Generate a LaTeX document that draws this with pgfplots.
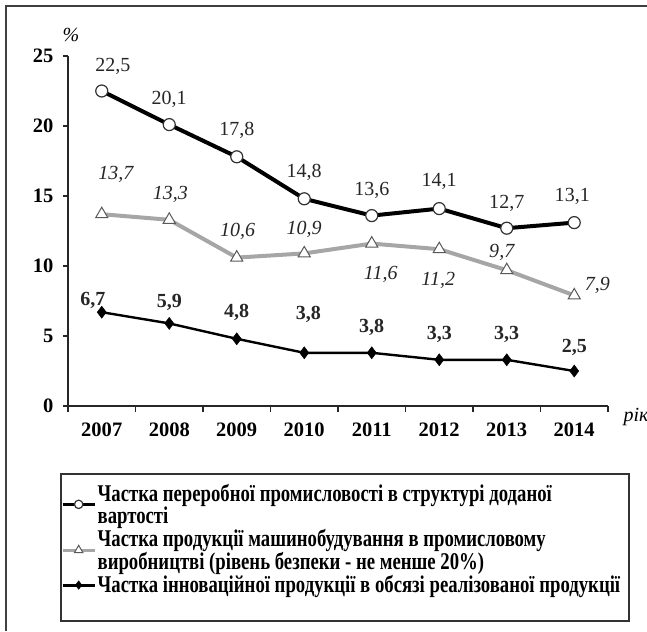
\documentclass[border=0pt]{standalone}
\usepackage{fontspec}
\setmainfont{Liberation Serif}
\newfontfamily\legfont{Liberation Serif}[FakeStretch=0.78]
\usepackage{pgfplots}
\pgfplotsset{compat=1.18}

\pgfplotsset{/pgf/number format/assume math mode=true}

\begin{document}
\begin{tikzpicture}
\useasboundingbox (0,0) rectangle (647pt,-631pt);
% outer frame (left and top only are visible)
\draw[black!75, line width=1.8pt] (6pt,-631pt) -- (6pt,-6pt) -- (647pt,-6pt);

\begin{axis}[
    at={(68pt,-406pt)}, anchor=south west,
    scale only axis,
    width=540pt, height=350pt,
    xmin=-0.5, xmax=7.5,
    ymin=0, ymax=25,
    clip=false,
    axis lines*=left,
    axis line style={black!85, line width=1.3pt},
    xtick={0,...,7},
    xticklabels={2007,2008,2009,2010,2011,2012,2013,2014},
    minor xtick={-0.5,0.5,...,7.5},
    major x tick style={draw=none},
    ytick={0,5,...,25},
    tick align=outside,
    tick style={black!85, line width=1.2pt},
    major tick length=5pt,
    minor tick length=6pt,
    ticklabel style={font=\fontsize{20.5}{24}\selectfont\bfseries},
    xticklabel style={yshift=-8pt},
    yticklabel style={xshift=-6pt},
    legend image code/.code={
        \draw[mark repeat=2,mark phase=2, line width=3pt, every mark/.append style={scale=0.7}]
            plot coordinates {(0pt,0pt)(16pt,0pt)(32pt,0pt)};},
    legend style={at={(axis description cs:-0.013,-0.218)}, anchor=north west,
        draw=none, fill=none, inner sep=0pt, row sep=1.5pt,
        font=\legfont\bfseries\fontsize{24}{22}\selectfont,
        cells={align=left}, nodes={inner sep=1.5pt}},
    legend cell align=left,
    nodes near coords={\pgfmathprintnumber[fixed,fixed zerofill,precision=1,use comma]{\pgfplotspointmeta}},
    visualization depends on=\thisrow{dx}\as\mydx,
    visualization depends on=\thisrow{dy}\as\mydy,
    every node near coord/.append style={anchor=center, xshift=\mydx*1pt, yshift=\mydy*1pt, text=black!85},
]

\addplot[black, line width=4pt, mark=*, mark size=6pt,
    mark options={fill=white, draw=black!80, line width=1.2pt},
    nodes near coords style={font=\fontsize{20}{24}\selectfont}]
    table {
    x y dx dy
    0 22.5 11 25
    1 20.1 0 25
    2 17.8 0 26
    3 14.8 0 26
    4 13.6 0 25
    5 14.1 0 27
    6 12.7 0 25
    7 13.1 -2 26
    };
\addlegendentry{Частка переробної промисловості в структурі доданої\\вартості}

\addplot[black!35, line width=4pt, mark=triangle*, mark size=7pt,
    mark options={fill=white, draw=black!65, line width=1pt},
    nodes near coords style={font=\fontsize{20}{24}\selectfont\itshape}]
    table {
    x y dx dy
    0 13.7 14 40
    1 13.3 1 25
    2 10.6 1 26
    3 10.9 0 24
    4 11.6 9 -31
    5 11.2 -1 -31
    6 9.7 -5 18
    7 7.9 23 10
    };
\addlegendentry{Частка продукції машинобудування в промисловому\\виробництві (рівень безпеки - не менше 20\%)}

\addplot[black, line width=2.4pt, mark=diamond*, mark size=6pt,
    mark options={fill=black, draw=black, line width=0.5pt},
    nodes near coords style={font=\fontsize{20}{24}\selectfont\bfseries}]
    table {
    x y dx dy
    0 6.7 -9 12
    1 5.9 0 21
    2 4.8 0 26
    3 3.8 4 38
    4 3.8 0 25
    5 3.3 0 25
    6 3.3 0 25
    7 2.5 0 24
    };
\addlegendentry{Частка інноваційної продукції в обсязі реалізованої продукції}

\end{axis}

\node[font=\fontsize{20}{24}\selectfont\itshape] at (71pt,-35pt) {\%};
\node[font=\fontsize{20}{24}\selectfont\itshape, anchor=west] at (620pt,-417pt) {рік};
\draw[black!80, line width=1.5pt] (61pt,-474pt) rectangle (629pt,-621pt);
\end{tikzpicture}
\end{document}
